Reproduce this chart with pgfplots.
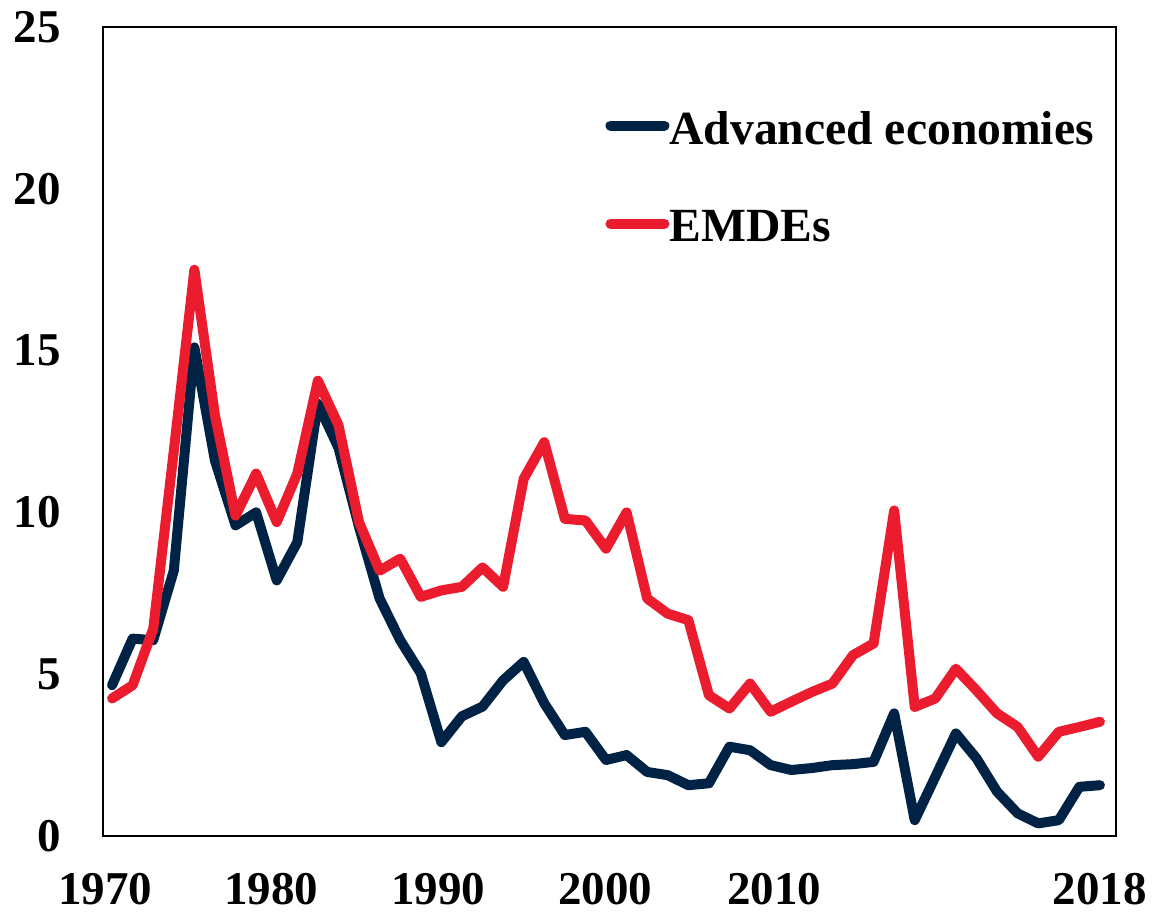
\documentclass[border=0pt]{standalone}
\usepackage{fontspec}
\setmainfont{Liberation Serif}
\usepackage{pgfplots}
\pgfplotsset{compat=1.18}

\definecolor{aeblue}{RGB}{0,34,68}
\definecolor{emred}{RGB}{235,28,45}

\pgfplotstableread{
year ae emde
1970 4.66 4.25
1971 6.10 4.66
1972 6.05 6.40
1973 8.20 11.90
1974 15.10 17.50
1975 11.60 13.00
1976 9.60 9.90
1977 10.00 11.20
1978 7.90 9.70
1979 9.08 11.20
1980 13.36 14.07
1981 12.00 12.70
1982 9.55 9.70
1983 7.34 8.20
1984 6.05 8.57
1985 5.03 7.39
1986 2.90 7.59
1987 3.70 7.70
1988 4.00 8.30
1989 4.81 7.70
1990 5.38 11.04
1991 4.10 12.17
1992 3.12 9.80
1993 3.22 9.75
1994 2.35 8.88
1995 2.50 10.00
1996 1.98 7.34
1997 1.88 6.87
1998 1.57 6.67
1999 1.63 4.35
2000 2.76 3.94
2001 2.65 4.71
2002 2.19 3.84
2003 2.04 4.15
2004 2.10 4.45
2005 2.19 4.71
2006 2.22 5.59
2007 2.29 5.95
2008 3.79 10.06
2009 0.49 3.99
2010 1.83 4.25
2011 3.17 5.17
2012 2.40 4.50
2013 1.37 3.79
2014 0.70 3.37
2015 0.39 2.45
2016 0.49 3.22
2017 1.52 3.37
2018 1.57 3.53
}\data

\begin{document}
\begin{tikzpicture}
\begin{axis}[
    name=ax,
    scale only axis,
    width=506.5pt, height=404.5pt,
    xmin=1969.56, xmax=2018.78,
    ymin=0, ymax=25,
    axis line style={line width=1pt},
    major tick length=0pt,
    xtick={1969.66,1977.73,1985.84,1993.96,2002.17,2018},
    xticklabels={1970,1980,1990,2000,2010,2018},
    ytick={0,5,10,15,20,25},
    yticklabels={0,5,10,15,20,25},
    tick label style={font=\fontsize{23.5}{26}\selectfont\bfseries, inner sep=0pt},
    xticklabel style={anchor=north, yshift=-18.5pt},
    yticklabel style={anchor=east, xshift=-21pt},
    legend style={at={(0.4956,0.896)}, anchor=north west, draw=none, fill=none,
        inner sep=0pt, row sep=31.5pt,
        font=\fontsize{23.8}{26}\selectfont\bfseries,
        nodes={inner sep=0pt}},
    legend cell align=left,
    legend image code/.code={\draw[#1, line width=5pt, line cap=round] (-2pt,2pt) -- (25pt,2pt);},
    every axis plot/.append style={line width=5pt, line join=round, line cap=round},
]
\addplot[aeblue] table[x=year, y=ae] {\data};
\addlegendentry{Advanced economies}
\addplot[emred] table[x=year, y=emde] {\data};
\addlegendentry{EMDEs}
\end{axis}
\path ([xshift=-51.5pt,yshift=-40pt]ax.south west) rectangle ([xshift=18.5pt,yshift=13.5pt]ax.north east);
\end{tikzpicture}
\end{document}
